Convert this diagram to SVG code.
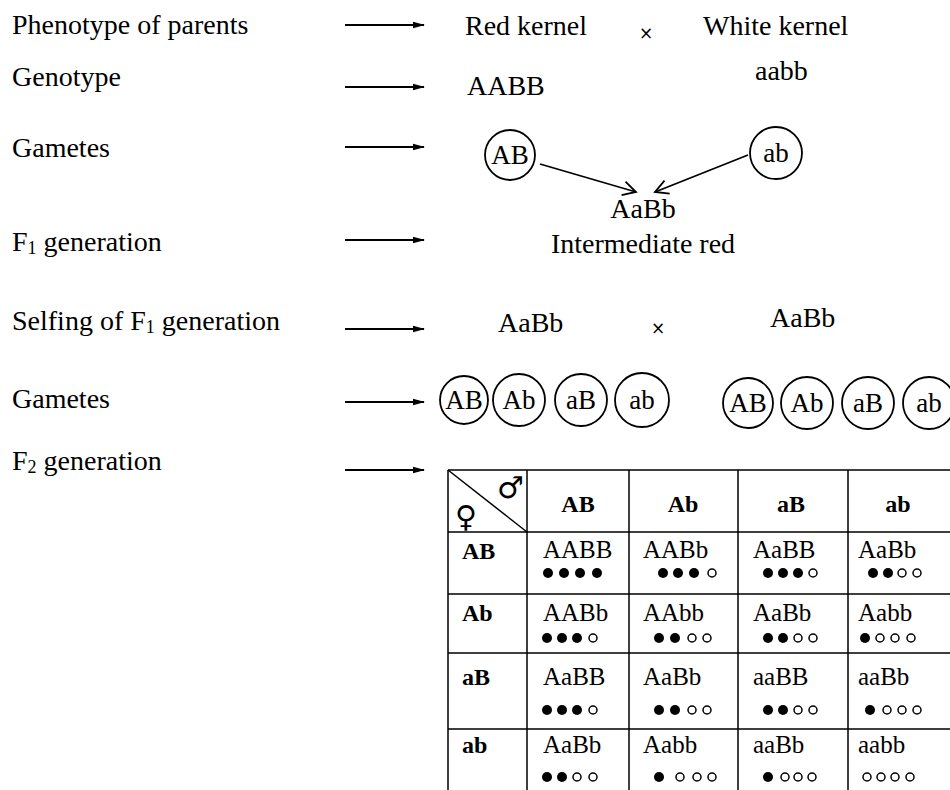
<svg xmlns="http://www.w3.org/2000/svg" xmlns:xlink="http://www.w3.org/1999/xlink" width="950" height="790" viewBox="0 0 950 790">
<style>
text{font-family:"Liberation Serif","Times New Roman",serif;fill:#000}
.lab{font-size:28px}
.big{font-size:28px}
.gam{font-size:27px;text-anchor:middle}
.hd{font-size:24px;font-weight:bold}
.cell{font-size:25px}
.x{font-family:"DejaVu Sans",sans-serif;font-size:17px;text-anchor:middle}
.sym{font-family:"DejaVu Sans",sans-serif;font-size:30px}
.ring{fill:none;stroke:#000;stroke-width:1.8}
.grid{stroke:#000;stroke-width:1.5;fill:none}
.arr{stroke:#000;stroke-width:1.8;fill:none;marker-end:url(#tri)}
.arr2{stroke:#000;stroke-width:1.8;fill:none;marker-end:url(#vee)}
.o{fill:#fff;stroke:#000;stroke-width:1.5}
</style>
<defs>
<marker id="tri" markerWidth="12" markerHeight="8" refX="11" refY="4" orient="auto" markerUnits="userSpaceOnUse">
<path d="M0,0.8 L12,4 L0,7.2 Z" fill="#000"/>
</marker>
<marker id="vee" markerWidth="18" markerHeight="18" refX="16" refY="9" orient="auto" markerUnits="userSpaceOnUse">
<path d="M3,2 L16,9 L3,16" fill="none" stroke="#000" stroke-width="1.8"/>
</marker>
<circle id="f" r="5" fill="#000"/>
<circle id="e" r="4" class="o"/>
</defs>
<rect width="950" height="790" fill="#fff"/>

<g id="labels">
<text class="lab" x="12" y="34">Phenotype of parents</text>
<text class="lab" x="12" y="86">Genotype</text>
<text class="lab" x="12" y="157">Gametes</text>
<text class="lab" x="12" y="251">F<tspan font-size="18" dy="3">1</tspan><tspan dy="-3"> generation</tspan></text>
<text class="lab" x="12" y="330">Selfing of F<tspan font-size="18" dy="3">1</tspan><tspan dy="-3"> generation</tspan></text>
<text class="lab" x="12" y="408">Gametes</text>
<text class="lab" x="12" y="470">F<tspan font-size="18" dy="3">2</tspan><tspan dy="-3"> generation</tspan></text>
</g>

<g id="connectors">
<line class="arr" x1="345" y1="25" x2="424" y2="25"/>
<line class="arr" x1="345" y1="87" x2="424" y2="87"/>
<line class="arr" x1="345" y1="147" x2="424" y2="147"/>
<line class="arr" x1="345" y1="240" x2="424" y2="240"/>
<line class="arr" x1="345" y1="329" x2="424" y2="329"/>
<line class="arr" x1="345" y1="402" x2="424" y2="402"/>
<line class="arr" x1="345" y1="470" x2="424" y2="470"/>
<line class="arr2" x1="540" y1="164" x2="636" y2="192"/>
<line class="arr2" x1="748" y1="155" x2="655" y2="192"/>
</g>

<g id="parents">
<text class="big" x="465" y="35">Red kernel</text>
<text class="x" x="646" y="39">×</text>
<text class="big" x="703" y="35">White kernel</text>
<text class="big" x="467" y="95">AABB</text>
<text class="big" x="755" y="80">aabb</text>
</g>

<g id="gamete-AB">
<circle class="ring" cx="510" cy="155" r="25"/>
<text class="gam" x="510" y="164">AB</text>
</g>
<g id="gamete-ab">
<circle class="ring" cx="776" cy="153" r="26"/>
<text class="gam" x="776" y="162">ab</text>
</g>

<g id="f1">
<text class="big" x="643" y="218" text-anchor="middle">AaBb</text>
<text class="big" x="643" y="253" text-anchor="middle">Intermediate red</text>
</g>

<g id="selfing">
<text class="big" x="498" y="332">AaBb</text>
<text class="x" x="658" y="334">×</text>
<text class="big" x="770" y="327">AaBb</text>
</g>

<g id="gametes-f1-left">
<circle class="ring" cx="464" cy="400" r="24"/><text class="gam" x="464" y="409">AB</text>
<circle class="ring" cx="519" cy="400" r="26"/><text class="gam" x="519" y="409">Ab</text>
<circle class="ring" cx="581" cy="400" r="26"/><text class="gam" x="581" y="409">aB</text>
<circle class="ring" cx="642" cy="400" r="27"/><text class="gam" x="642" y="409">ab</text>
</g>
<g id="gametes-f1-right">
<circle class="ring" cx="748" cy="403" r="25"/><text class="gam" x="748" y="412">AB</text>
<circle class="ring" cx="807" cy="403" r="26"/><text class="gam" x="807" y="412">Ab</text>
<circle class="ring" cx="868" cy="403" r="26"/><text class="gam" x="868" y="412">aB</text>
<circle class="ring" cx="929" cy="403" r="26"/><text class="gam" x="929" y="412">ab</text>
</g>

<g id="punnett">
<path class="grid" d="M448,470 H960 M448,532 H960 M448,594 H960 M448,653 H960 M448,729 H960 M448,470 V792 M527,470 V792 M629,470 V792 M738,470 V792 M848,470 V792"/>
<line class="grid" x1="448" y1="470" x2="527" y2="532"/>
<text class="sym" x="497" y="498">♂</text>
<text class="sym" x="455" y="527">♀</text>
<text class="hd" x="578" y="512" text-anchor="middle">AB</text>
<text class="hd" x="683" y="512" text-anchor="middle">Ab</text>
<text class="hd" x="791" y="512" text-anchor="middle">aB</text>
<text class="hd" x="898" y="512" text-anchor="middle">ab</text>
<text class="hd" x="462" y="559">AB</text>
<text class="hd" x="462" y="621">Ab</text>
<text class="hd" x="462" y="685">aB</text>
<text class="hd" x="462" y="753">ab</text>

<text class="cell" x="543" y="558">AABB</text>
<text class="cell" x="643" y="558">AABb</text>
<text class="cell" x="753" y="558">AaBB</text>
<text class="cell" x="858" y="558">AaBb</text>
<text class="cell" x="543" y="621">AABb</text>
<text class="cell" x="643" y="621">AAbb</text>
<text class="cell" x="753" y="621">AaBb</text>
<text class="cell" x="858" y="621">Aabb</text>
<text class="cell" x="543" y="685">AaBB</text>
<text class="cell" x="643" y="685">AaBb</text>
<text class="cell" x="753" y="685">aaBB</text>
<text class="cell" x="858" y="685">aaBb</text>
<text class="cell" x="543" y="753">AaBb</text>
<text class="cell" x="643" y="753">Aabb</text>
<text class="cell" x="753" y="753">aaBb</text>
<text class="cell" x="858" y="753">aabb</text>

<use href="#f" x="548" y="573"/><use href="#f" x="564" y="573"/><use href="#f" x="580" y="573"/><use href="#f" x="597" y="573"/>
<use href="#f" x="663" y="573"/><use href="#f" x="678" y="573"/><use href="#f" x="694" y="573"/><use href="#e" x="712" y="573"/>
<use href="#f" x="768" y="573"/><use href="#f" x="783" y="573"/><use href="#f" x="798" y="573"/><use href="#e" x="813" y="573"/>
<use href="#f" x="873" y="573"/><use href="#f" x="888" y="573"/><use href="#e" x="902" y="573"/><use href="#e" x="917" y="573"/>

<use href="#f" x="547" y="638"/><use href="#f" x="562" y="638"/><use href="#f" x="577" y="638"/><use href="#e" x="593" y="638"/>
<use href="#f" x="659" y="638"/><use href="#f" x="675" y="638"/><use href="#e" x="692" y="638"/><use href="#e" x="707" y="638"/>
<use href="#f" x="768" y="638"/><use href="#f" x="783" y="638"/><use href="#e" x="798" y="638"/><use href="#e" x="813" y="638"/>
<use href="#f" x="865" y="638"/><use href="#e" x="880" y="638"/><use href="#e" x="895" y="638"/><use href="#e" x="911" y="638"/>

<use href="#f" x="547" y="710"/><use href="#f" x="562" y="710"/><use href="#f" x="577" y="710"/><use href="#e" x="593" y="710"/>
<use href="#f" x="659" y="710"/><use href="#f" x="675" y="710"/><use href="#e" x="692" y="710"/><use href="#e" x="707" y="710"/>
<use href="#f" x="768" y="710"/><use href="#f" x="783" y="710"/><use href="#e" x="798" y="710"/><use href="#e" x="813" y="710"/>
<use href="#f" x="870" y="710"/><use href="#e" x="887" y="710"/><use href="#e" x="902" y="710"/><use href="#e" x="917" y="710"/>

<use href="#f" x="547" y="777"/><use href="#f" x="562" y="777"/><use href="#e" x="577" y="777"/><use href="#e" x="593" y="777"/>
<use href="#f" x="659" y="777"/><use href="#e" x="680" y="777"/><use href="#e" x="697" y="777"/><use href="#e" x="712" y="777"/>
<use href="#f" x="768" y="777"/><use href="#e" x="785" y="777"/><use href="#e" x="798" y="777"/><use href="#e" x="812" y="777"/>
<use href="#e" x="867" y="777"/><use href="#e" x="881" y="777"/><use href="#e" x="895" y="777"/><use href="#e" x="910" y="777"/>
</g>
</svg>
